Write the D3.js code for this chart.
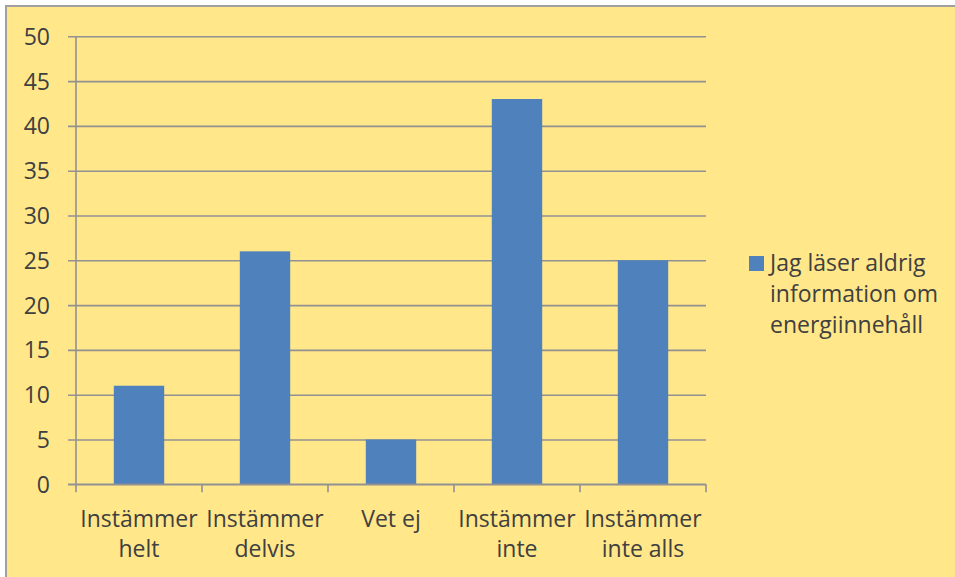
<!DOCTYPE html>
<html>
<head>
<meta charset="utf-8">
<script src="https://cdn.jsdelivr.net/npm/d3@7"></script>
<style>
  html, body { margin: 0; padding: 0; background: #ffffff; }
  svg { display: block; }
  text { font-family: "Open Sans", "Noto Sans", sans-serif; fill: #404040; }
</style>
</head>
<body>
<svg id="chart" width="955" height="577"></svg>
<script>
// Survey answers, one bar per answer option
const categories = [["Instämmer", "helt"], ["Instämmer", "delvis"], ["Vet ej"], ["Instämmer", "inte"], ["Instämmer", "inte alls"]];
const values = [11, 26, 5, 43, 25];
const yTicks = [0, 5, 10, 15, 20, 25, 30, 35, 40, 45, 50];
const seriesName = ["Jag läser aldrig", "information om", "energiinnehåll"];

const svg = d3.select("#chart");
const W = 955, H = 577;
const fontSize = "23px";

// Chart area background with its frame
svg.append("rect")
  .attr("x", 6).attr("y", 6)
  .attr("width", W + 10).attr("height", H + 10)
  .attr("fill", "#FFE78A")
  .attr("stroke", "#a0a0a0").attr("stroke-width", 2);

const plot = { left: 76, right: 706, top: 36.3, bottom: 484.3 };

const x = d3.scaleBand()
  .domain(d3.range(categories.length))
  .range([plot.left, plot.right])
  .paddingInner(0).paddingOuter(0);

const y = d3.scaleLinear().domain([0, 50]).range([plot.bottom, plot.top]);

const gridColor = "#929292";

// Horizontal gridlines with tick marks to the left of the axis
const yAxis = d3.axisLeft(y)
  .tickValues(yTicks)
  .tickSize(-(plot.right - plot.left))
  .tickSizeOuter(0)
  .tickFormat(d3.format("d"));

const gy = svg.append("g")
  .attr("transform", `translate(${plot.left},0)`)
  .call(yAxis);
gy.select(".domain").remove();
gy.selectAll(".tick line")
  .attr("x1", -8)
  .attr("stroke", gridColor).attr("stroke-width", 1.6);
gy.selectAll(".tick text")
  .attr("x", -26)
  .style("font-size", fontSize)
  .style("fill", "#404040")
  .attr("dy", "0.35em");

// Vertical axis line
svg.append("line")
  .attr("x1", plot.left).attr("x2", plot.left)
  .attr("y1", plot.top).attr("y2", plot.bottom)
  .attr("stroke", gridColor).attr("stroke-width", 1.6);

// Category boundary ticks below the baseline
const boundaries = d3.range(categories.length + 1).map(i => plot.left + i * x.bandwidth());
svg.append("g").selectAll("line")
  .data(boundaries)
  .join("line")
  .attr("x1", d => d).attr("x2", d => d)
  .attr("y1", plot.bottom).attr("y2", plot.bottom + 8)
  .attr("stroke", gridColor).attr("stroke-width", 1.6);

// Bars
const barW = x.bandwidth() * 0.4;
svg.append("g").selectAll("rect")
  .data(values)
  .join("rect")
  .attr("x", (d, i) => x(i) + (x.bandwidth() - barW) / 2)
  .attr("y", d => y(d))
  .attr("width", barW)
  .attr("height", d => y(0) - y(d))
  .attr("fill", "#4F81BD");

// Baseline drawn above the bars
svg.append("line")
  .attr("x1", plot.left - 8).attr("x2", plot.right)
  .attr("y1", plot.bottom).attr("y2", plot.bottom)
  .attr("stroke", gridColor).attr("stroke-width", 1.6);

// Category labels, wrapped onto two lines
const labels = svg.append("g").selectAll("text")
  .data(categories)
  .join("text")
  .attr("text-anchor", "middle")
  .style("font-size", fontSize)
  .attr("x", (d, i) => x(i) + x.bandwidth() / 2)
  .attr("y", 527);
labels.selectAll("tspan")
  .data(d => d)
  .join("tspan")
  .attr("x", function () { return this.parentNode.getAttribute("x"); })
  .attr("dy", (d, i) => i === 0 ? 0 : 30)
  .text(d => d);

// Legend
const legend = svg.append("g");
legend.append("rect")
  .attr("x", 749).attr("y", 256)
  .attr("width", 15).attr("height", 15)
  .attr("fill", "#4F81BD");
legend.append("text")
  .style("font-size", fontSize)
  .attr("x", 770).attr("y", 271)
  .selectAll("tspan")
  .data(seriesName)
  .join("tspan")
  .attr("x", 770)
  .attr("dy", (d, i) => i === 0 ? 0 : 31)
  .text(d => d);
</script>
</body>
</html>
